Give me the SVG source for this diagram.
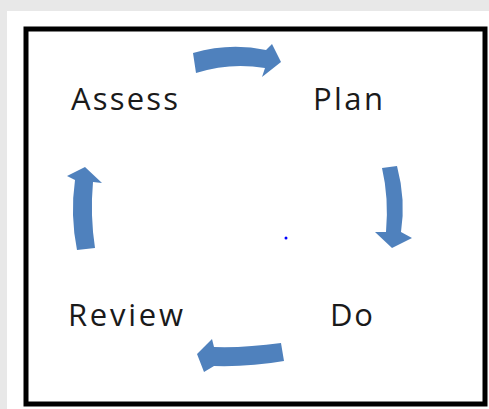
<svg xmlns="http://www.w3.org/2000/svg" width="489" height="409" viewBox="0 0 489 409">
<style>
.lbl{font-family:"Open Sans","DejaVu Sans",sans-serif;font-size:31px;fill:#1a1a1a}
.arr{fill:#4f81bd}
</style>
<rect x="0" y="0" width="489" height="409" fill="#e8e8e8"/>
<rect x="7" y="11" width="482" height="398" fill="#ffffff"/>
<rect x="26" y="29" width="459" height="375" fill="none" stroke="#000" stroke-width="5"/>
<g id="connectors">
<path class="arr" d="M193,53 Q230,42 266,50 L272,44 L281,62 L262,77 L265,68 Q230,62 196,73 Z"/>
<path class="arr" d="M382,168 L397,166 Q406,200 401,232 L412,238 L392,248 L375,232 L386,232 Q389,198 382,168 Z"/>
<path class="arr" d="M281,343 Q245,348 214,347 L212,339 L197,354 L204,372 L214,366 Q250,367 284,361 Z"/>
<path class="arr" d="M77,250 L95,248 Q90,215 93,182 L102,183 L85,167 L67,176 L75,180 Q70,215 77,250 Z"/>
</g>
<g id="plan"><text class="lbl" x="313" y="110" textLength="70" lengthAdjust="spacing">Plan</text></g>
<g id="assess"><text class="lbl" x="71" y="110" textLength="107" lengthAdjust="spacing">Assess</text></g>
<g id="review"><text class="lbl" x="68" y="326" textLength="115" lengthAdjust="spacing">Review</text></g>
<g id="do"><text class="lbl" x="330" y="326" textLength="43" lengthAdjust="spacing">Do</text></g>
<circle cx="286" cy="238" r="1.5" fill="#0000ff"/>
</svg>
